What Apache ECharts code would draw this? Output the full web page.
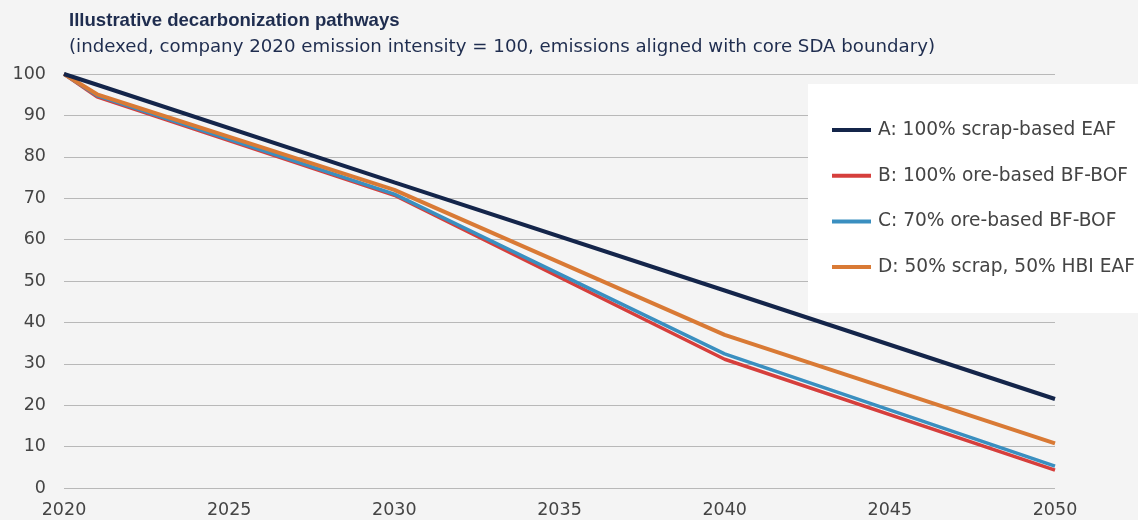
<!DOCTYPE html>
<html><head><meta charset="utf-8">
<script src="https://cdn.jsdelivr.net/npm/echarts@6/dist/echarts.min.js"></script>
<style>html,body{margin:0;padding:0;background:#f4f4f4}#c{width:1138px;height:520px}</style>
</head><body><div id="c"></div>
<script>
const years = [2020, 2021, 2030, 2040, 2050];
const seriesNames = ['A: 100% scrap-based EAF', 'B: 100% ore-based BF-BOF', 'C: 70% ore-based BF-BOF', 'D: 50% scrap, 50% HBI EAF'];
const valuesA = [100, 97.4, 73.8, 47.7, 21.5];
const valuesB = [100, 94.5, 70.7, 31.1, 4.3];
const valuesC = [100, 94.8, 71.0, 32.4, 5.3];
const valuesD = [100, 95.1, 72.0, 37.0, 10.8];
const xTicks = [2020, 2025, 2030, 2035, 2040, 2045, 2050];
const yTicks = [0, 10, 20, 30, 40, 50, 60, 70, 80, 90, 100];
const colors = ['#14254a', '#d63f3c', '#3a8fc0', '#d97a35'];
const FONT = 'DejaVu Sans';

const pairs = v => years.map((y, i) => [y, v[i]]);
const allValues = [valuesA, valuesB, valuesC, valuesD];
const drawOrder = [1, 2, 3, 0];
const widths = [4, 3.5, 3.5, 4];

const chart = echarts.init(document.getElementById('c'));
chart.setOption({
  backgroundColor: '#f4f4f4',
  animation: false,
  textStyle: { fontFamily: FONT },
  title: {
    left: 64, top: 6,
    text: 'Illustrative decarbonization pathways',
    subtext: '(indexed, company 2020 emission intensity = 100, emissions aligned with core SDA boundary)',
    itemGap: 8,
    textStyle: { fontFamily: 'Liberation Sans', fontSize: 18.6, fontWeight: 'bold', color: '#1f2d4f' },
    subtextStyle: { fontFamily: FONT, fontSize: 18.2, color: '#1f2d4f' }
  },
  grid: { left: 64, right: 83, top: 74, bottom: 32, containLabel: false },
  graphic: [{
    type: 'rect', left: 808, top: 84, z: 1,
    shape: { width: 330, height: 229 },
    style: { fill: '#ffffff' }
  }],
  legend: {
    orient: 'vertical', left: 808, top: 84,
    padding: [36, 4, 35, 24],
    itemGap: 25.7, itemWidth: 39, itemHeight: 4,
    icon: 'rect',
    data: seriesNames,
    textStyle: { fontFamily: FONT, fontSize: 18.6, color: '#444', lineHeight: 20, padding: [0, 0, 0, 2] }
  },
  xAxis: {
    type: 'value', min: 2020, max: 2050, interval: 5,
    axisLine: { show: false }, axisTick: { show: false }, splitLine: { show: false },
    axisLabel: { fontFamily: FONT, fontSize: 17.5, color: '#444', margin: 13,
      formatter: v => xTicks.includes(v) ? String(v) : '' }
  },
  yAxis: {
    type: 'value', min: 0, max: 100, interval: 10,
    axisLine: { show: false }, axisTick: { show: false },
    splitLine: { lineStyle: { color: '#b8b8b8', width: 1.2 } },
    axisLabel: { fontFamily: FONT, fontSize: 17.5, color: '#444', margin: 18,
      formatter: v => yTicks.includes(v) ? String(v) : '' }
  },
  series: drawOrder.map(i => ({
    name: seriesNames[i], type: 'line', data: pairs(allValues[i]),
    symbol: 'none', z: 2,
    lineStyle: { color: colors[i], width: widths[i] },
    itemStyle: { color: colors[i] }
  }))
});
</script></body></html>
